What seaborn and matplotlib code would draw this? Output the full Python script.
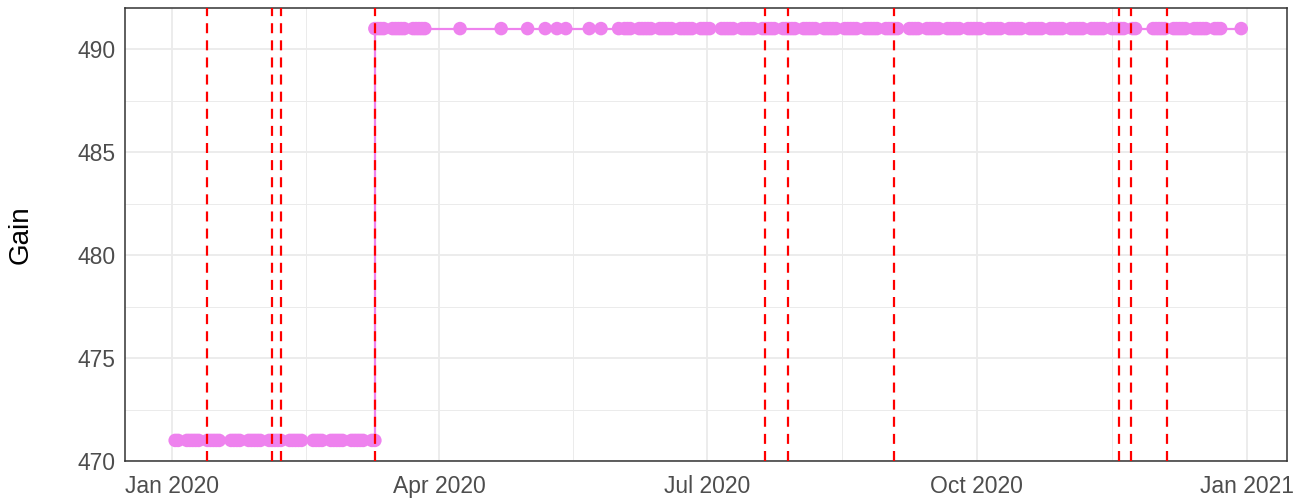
import numpy as np
import pandas as pd
import matplotlib
matplotlib.use("Agg")
import matplotlib.pyplot as plt
import matplotlib.dates as mdates
import seaborn as sns

# ---- data ----
year = 2020
days_jan = [2, 3, 6, 7, 8, 9, 10, 13, 14, 15, 16, 17, 21, 22, 23, 24, 27, 28, 29, 30, 31]
days_feb = [3, 4, 5, 6, 7, 10, 11, 12, 13, 14, 18, 19, 20, 21, 24, 25, 26, 27, 28]
days_mar_low = [2, 3, 4, 5, 6, 9, 10]
days_mar_high = [10, 11, 12, 13, 16, 17, 18, 19, 20, 23, 24, 25, 26, 27]
days_apr = [8, 22]
days_may = [1, 7, 11, 14, 22, 26]
days_jun = [1, 3, 4, 5, 8, 9, 10, 11, 12, 15, 16, 17, 18, 19, 22, 23, 24, 25, 26, 29, 30]
days_jul = [1, 2, 6, 7, 8, 9, 10, 13, 14, 15, 16, 17, 20, 21, 22, 23, 24, 27, 28, 29, 30, 31]
days_aug = [3, 4, 5, 6, 7, 10, 11, 12, 13, 14, 17, 18, 19, 20, 21, 24, 25, 26, 27, 28, 31]
days_sep = [1, 2, 3, 4, 8, 9, 10, 11, 14, 15, 16, 17, 18, 21, 22, 23, 24, 25, 28, 29, 30]
days_oct = [1, 2, 5, 6, 7, 8, 9, 12, 13, 14, 15, 16, 19, 20, 21, 22, 23, 26, 27, 28, 29, 30]
days_nov = [2, 3, 4, 5, 6, 9, 10, 11, 12, 13, 16, 17, 18, 19, 20, 23, 24, 30]
days_dec = [1, 2, 3, 4, 7, 8, 9, 10, 11, 14, 15, 16, 17, 18, 21, 22, 23, 30]

gain_low = 471    # gain before the change
gain_high = 491   # gain after the change

event_dates = ["2020-01-13", "2020-02-04", "2020-02-07", "2020-03-10",
               "2020-07-21", "2020-07-28 18:00", "2020-09-02 18:00",
               "2020-11-18 12:00", "2020-11-22 12:00", "2020-12-04 18:00"]

x_breaks = ["2020-01-01", "2020-04-01", "2020-07-01", "2020-10-01", "2021-01-01"]
x_limits = ["2019-12-15 22:00", "2021-01-14 14:00"]
y_breaks = [470, 475, 480, 485, 490]
y_label = "Gain"

# ---- build frame ----
low_months = [(1, days_jan), (2, days_feb), (3, days_mar_low)]
high_months = [(3, days_mar_high), (4, days_apr), (5, days_may), (6, days_jun),
               (7, days_jul), (8, days_aug), (9, days_sep), (10, days_oct),
               (11, days_nov), (12, days_dec)]
rows = []
for m, dl in low_months:
    for d in dl:
        rows.append((pd.Timestamp(year=year, month=m, day=d), gain_low))
for m, dl in high_months:
    for d in dl:
        rows.append((pd.Timestamp(year=year, month=m, day=d), gain_high))
df = pd.DataFrame(rows, columns=["date", "gain"])

# ---- plot ----
sns.set_theme(style="white")
plt.rcParams["font.family"] = ["Liberation Sans", "DejaVu Sans"]

fig = plt.figure(figsize=(12.98, 5.0), dpi=100)
ax = fig.add_axes([125 / 1298, 39 / 500, (1287 - 125) / 1298, (461 - 8) / 500])

pink = "#EE82EE"
sns.lineplot(data=df, x="date", y="gain", ax=ax, color=pink, linewidth=1.6,
             zorder=3, estimator=None, sort=False)
sns.scatterplot(data=df, x="date", y="gain", ax=ax, color=pink, s=95,
                edgecolor="none", linewidth=0, zorder=4)

for ed in event_dates:
    ax.axvline(pd.Timestamp(ed), color="#FF0000", linewidth=1.6,
               linestyle=(0, (4.5, 3.2)), zorder=5)

ax.set_xlim(mdates.date2num(pd.to_datetime(x_limits)))
yr = df["gain"].max() - df["gain"].min()
ax.set_ylim(df["gain"].min() - 0.05 * yr, df["gain"].max() + 0.05 * yr)

xb = mdates.date2num(pd.to_datetime(x_breaks))
ax.set_xticks(xb)
ax.set_xticklabels([pd.Timestamp(b).strftime("%b %Y") for b in x_breaks])
ax.set_xticks((xb[:-1] + xb[1:]) / 2, minor=True)
ax.set_yticks(y_breaks)
ax.set_yticklabels([str(v) for v in y_breaks])
yb = np.array(y_breaks, dtype=float)
ax.set_yticks((yb[:-1] + yb[1:]) / 2, minor=True)

ax.grid(which="major", color="#EBEBEB", linewidth=1.3, zorder=0)
ax.grid(which="minor", color="#EBEBEB", linewidth=0.7, zorder=0)
ax.set_axisbelow(True)

for sp in ax.spines.values():
    sp.set_visible(True)
    sp.set_color("#333333")
    sp.set_linewidth(1.1)

ax.tick_params(axis="x", which="major", length=4, width=1.1, color="#333333",
               labelsize=16.5, labelcolor="#4D4D4D", pad=6)
ax.tick_params(axis="y", which="major", length=4, width=1.1, color="#333333",
               labelsize=16.5, labelcolor="#4D4D4D", pad=3)
ax.tick_params(axis="both", which="minor", length=0)

ax.set_xlabel("")
ax.set_ylabel(y_label, fontsize=20, color="black", labelpad=31)

fig.savefig("out.png", dpi=100)
